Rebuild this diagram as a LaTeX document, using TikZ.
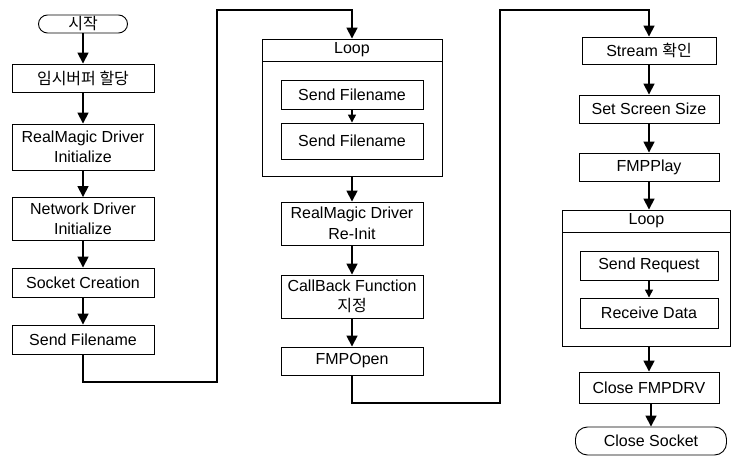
\documentclass[tikz,border=0pt]{standalone}
\usepackage{fontspec}
\setmainfont{Liberation Sans}
\newfontfamily\krfont{Noto Sans CJK KR}
\usetikzlibrary{arrows.meta}
\begin{document}
\begin{tikzpicture}[x=1pt,y=-1pt,
  box/.style={draw, line width=0.9pt, minimum width=142pt, minimum height=29pt, inner sep=0pt, align=center, font=\fontsize{16}{20.5}\selectfont},
  term/.style={box, rounded corners=10pt},
  frame/.style={draw, line width=0.9pt, inner sep=0pt},
  arr/.style={line width=1.7pt, -{Triangle[length=11pt,width=11pt]}},
  sarr/.style={line width=1.4pt, -{Triangle[length=8pt,width=8pt]}}]
\useasboundingbox (0,0) rectangle (732,457);
% column 1
\node[term, minimum width=89pt, minimum height=18pt, rounded corners=9pt] (start) at (83,24) {\krfont 시작};
\node[box, minimum height=28pt] (buf) at (83,78) {\krfont 임시버퍼 할당};
\node[box, minimum height=46pt] (rm) at (83,147) {RealMagic Driver\\Initialize};
\node[box, minimum height=43pt] (net) at (83,219) {Network Driver\\Initialize};
\node[box] (sock) at (83,282.5) {Socket Creation};
\node[box] (sf) at (83,339.5) {Send Filename};
% column 2
\node[box, minimum width=180pt, minimum height=22pt] (l1h) at (352,50) {Loop};
\node[frame, minimum width=180pt, minimum height=115pt] (l1b) at (352,118.5) {};
\node[box] (sf1) at (352,94.5) {Send Filename};
\node[box, minimum height=36pt] (sf2) at (352,141) {Send Filename};
\node[box, minimum height=43pt] (ri) at (352,223.5) {RealMagic Driver\\Re-Init};
\node[box, minimum height=43pt] (cb) at (352,296.5) {CallBack Function\\{\krfont 지정}};
\node[box, minimum height=28pt] (fo) at (352,361) {FMPOpen};
% column 3
\node[box, minimum width=134pt, minimum height=27pt] (st) at (649,50.5) {Stream {\krfont 확인}};
\node[box, minimum width=140pt, minimum height=28pt] (sss) at (649,109) {Set Screen Size};
\node[box, minimum width=140pt, minimum height=28pt] (fp) at (649,167) {FMPPlay};
\node[box, minimum width=168pt, minimum height=22pt] (l2h) at (646.5,221) {Loop};
\node[frame, minimum width=168pt, minimum height=114pt] (l2b) at (646.5,289) {};
\node[box, minimum width=138pt] (sr) at (649,265.5) {Send Request};
\node[box, minimum width=138pt, minimum height=30pt] (rd) at (649,313) {Receive Data};
\node[box, minimum width=140pt, minimum height=31pt] (cf) at (649,387.5) {Close FMPDRV};
\node[term, minimum width=151pt, minimum height=28pt, rounded corners=12pt] (cs) at (651,441) {Close Socket};
% connectors column 1
\draw[arr] (start) -- (buf);
\draw[arr] (buf) -- (rm);
\draw[arr] (rm) -- (net);
\draw[arr] (net) -- (sock);
\draw[arr] (sock) -- (sf);
\coordinate (a1) at (217,382);
\coordinate (a2) at (217,10);
\draw[arr] (sf.south) |- (a1) -- (a2) -| (l1h.north);
% column 2
\draw[sarr] (sf1) -- (sf2);
\draw[arr] (l1b.south) -- (ri.north);
\draw[arr] (ri) -- (cb);
\draw[arr] (cb) -- (fo);
\coordinate (b1) at (500,403);
\coordinate (b2) at (500,10);
\draw[arr] (fo.south) |- (b1) -- (b2) -| (st.north);
% column 3
\draw[arr] (st) -- (sss);
\draw[arr] (sss) -- (fp);
\draw[arr] (fp.south) -- (fp.south |- l2h.north);
\draw[sarr] (sr) -- (rd);
\draw[arr] (l2b.south -| cf.north) -- (cf.north);
\draw[arr] (cf.south -| cs.north) -- (cs.north);
\end{tikzpicture}
\end{document}
